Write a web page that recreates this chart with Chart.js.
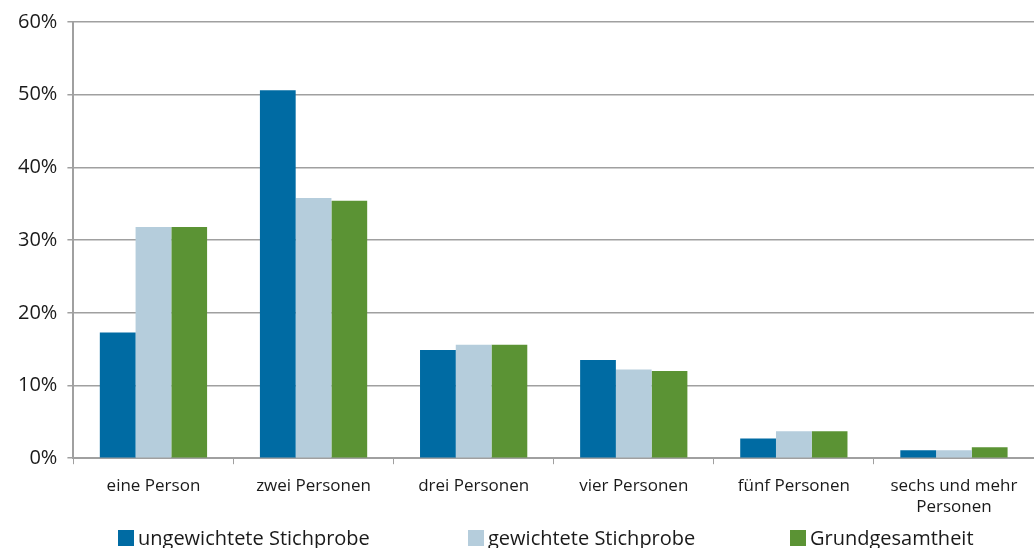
<!DOCTYPE html>
<html><head><meta charset="utf-8">
<script src="https://cdn.jsdelivr.net/npm/chart.js@4/dist/chart.umd.min.js"></script>
<style>
html,body{margin:0;padding:0;background:#fff;overflow:hidden;width:1034px;height:548px;position:relative}
canvas{display:block}
#legend{position:absolute;left:0;top:0;width:1034px;height:548px;pointer-events:none;font-family:'Open Sans','DejaVu Sans',sans-serif;font-size:20px;color:#1a1a1a}
.item{position:absolute;top:526px;white-space:nowrap;line-height:24px;height:24px}
.box{display:inline-block;width:16px;height:16px;vertical-align:-1px;margin-right:4px}
</style>
</head><body>
<canvas id="c" width="1034" height="548"></canvas>
<div id="legend"></div>
<script>
const categories = ["eine Person", "zwei Personen", "drei Personen", "vier Personen", "fünf Personen", ["sechs und mehr", "Personen"]];
const seriesNames = ["ungewichtete Stichprobe", "gewichtete Stichprobe", "Grundgesamtheit"];
const ungewichtet = [17.3, 50.6, 14.9, 13.5, 2.7, 1.1];
const gewichtet = [31.8, 35.8, 15.6, 12.2, 3.7, 1.1];
const grund = [31.8, 35.4, 15.6, 12.0, 3.7, 1.5];
const colors = ["#006ba3", "#b5cddc", "#5b9334"];
const yTicks = [0, 10, 20, 30, 40, 50, 60];
const legendX = [118, 468, 790];

const FONT = "'Open Sans', 'DejaVu Sans', sans-serif";
new Chart(document.getElementById('c'), {
  type: 'bar',
  data: {
    labels: categories,
    datasets: [ungewichtet, gewichtet, grund].map((d, i) => ({
      label: seriesNames[i], data: d, backgroundColor: colors[i],
      borderWidth: 0, categoryPercentage: 0.67, barPercentage: 1.0
    }))
  },
  options: {
    responsive: false, animation: false,
    layout: { padding: { left: 8, right: 0, top: 14, bottom: 19 } },
    plugins: { tooltip: { enabled: false }, legend: { display: false } },
    scales: {
      x: {
        grid: { display: true, drawOnChartArea: false, drawTicks: true, tickLength: 6, color: '#a0a0a0', offset: true },
        border: { color: '#a0a0a0', width: 2 },
        ticks: { font: { family: FONT, size: 17 }, color: '#1a1a1a', maxRotation: 0, padding: 12 }
      },
      y: {
        min: 0, max: 60,
        afterBuildTicks: ax => { ax.ticks = yTicks.map(v => ({ value: v })); },
        grid: { color: '#a0a0a0', lineWidth: 1.5, tickLength: 6 },
        border: { color: '#a0a0a0', width: 2 },
        ticks: { font: { family: FONT, size: 20 }, color: '#1a1a1a', padding: 10, callback: v => v + '%' }
      }
    }
  }
});
const lg = document.getElementById('legend');
seriesNames.forEach((n, i) => {
  const d = document.createElement('div');
  d.className = 'item';
  d.style.left = legendX[i] + 'px';
  d.innerHTML = '<span class="box" style="background:' + colors[i] + '"></span>' + n;
  lg.appendChild(d);
});
</script>
</body></html>
